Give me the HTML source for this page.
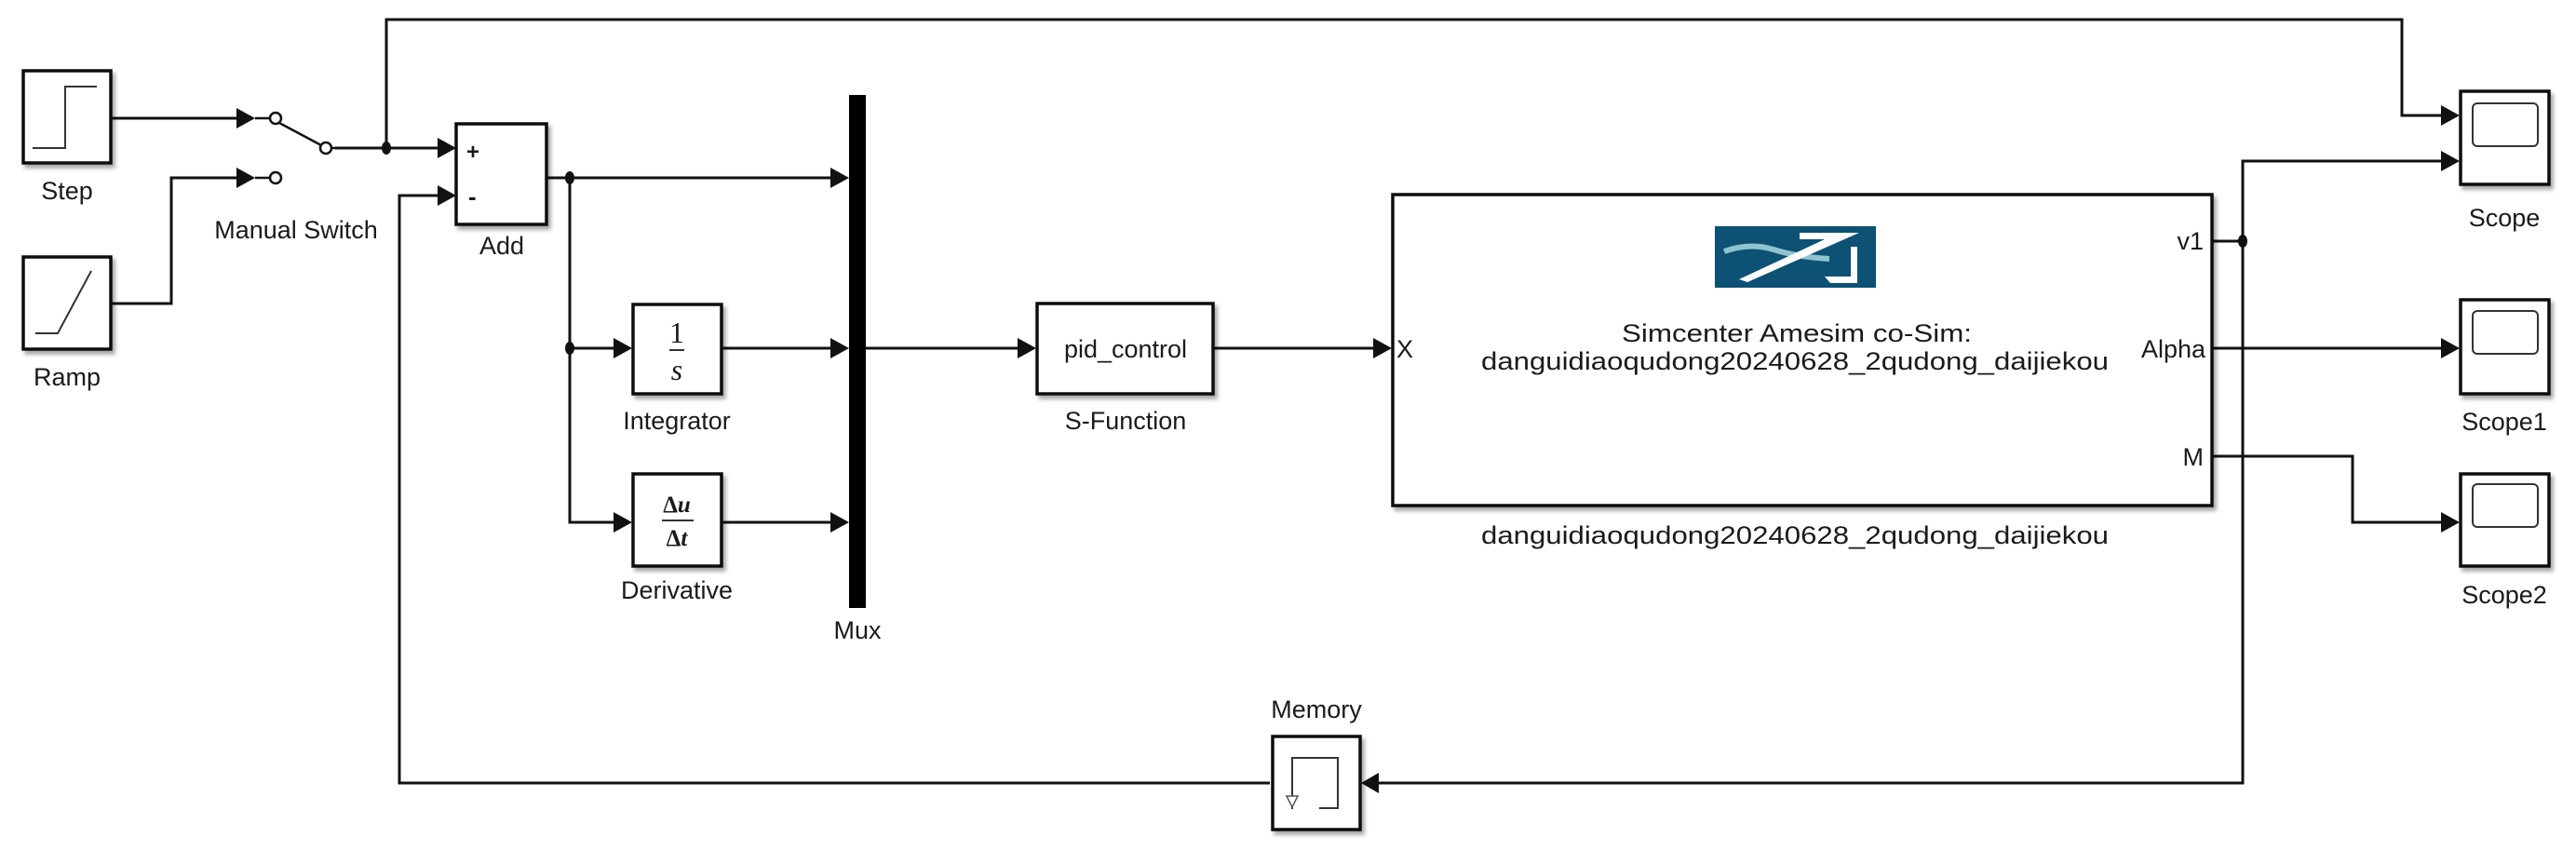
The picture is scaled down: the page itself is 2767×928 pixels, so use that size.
<!DOCTYPE html>
<html><head><meta charset="utf-8"><style>
html,body{margin:0;padding:0;background:#fff;}
svg{display:block;}
text{font-family:"Liberation Sans",Arial,sans-serif;font-size:27px;fill:#1a1a1a;}
</style></head><body>
<svg width="2767" height="928" viewBox="0 0 2767 928" xmlns="http://www.w3.org/2000/svg">
<defs>
<filter id="sh" x="-10%" y="-10%" width="130%" height="130%"><feDropShadow dx="3" dy="4" stdDeviation="2" flood-color="#000" flood-opacity="0.35"/></filter>
</defs>
<g fill="none" stroke="#111" stroke-width="3">
<polyline points="415,159 415,21 2580,21 2580,124 2625,124"/>
<line x1="120" y1="127" x2="256" y2="127"/>
<polyline points="120,326 184,326 184,191 256,191"/>
<line x1="360" y1="159" x2="475" y2="159"/>
<polyline points="1364,841 429,841 429,210 475,210"/>
<line x1="588" y1="191" x2="896" y2="191"/>
<polyline points="612,191 612,561 662,561"/>
<line x1="612" y1="374" x2="662" y2="374"/>
<line x1="776" y1="374" x2="896" y2="374"/>
<line x1="776" y1="561" x2="896" y2="561"/>
<line x1="930" y1="374" x2="1097" y2="374"/>
<line x1="1304" y1="374" x2="1479" y2="374"/>
<line x1="2377" y1="259" x2="2409" y2="259"/>
<polyline points="2625,173 2409,173 2409,841 1478,841"/>
<line x1="2377" y1="374" x2="2625" y2="374"/>
<polyline points="2377,490 2527,490 2527,561 2625,561"/>
</g>
<g fill="#111">
<polygon points="254,116 274,127 254,138"/>
<polygon points="254,180 274,191 254,202"/>
<polygon points="470,148 490,159 470,170"/>
<polygon points="470,199 490,210 470,221"/>
<polygon points="892,180 912,191 892,202"/>
<polygon points="892,363 912,374 892,385"/>
<polygon points="892,550 912,561 892,572"/>
<polygon points="659,363 679,374 659,385"/>
<polygon points="659,550 679,561 659,572"/>
<polygon points="1093,363 1113,374 1093,385"/>
<polygon points="1475,363 1495,374 1475,385"/>
<polygon points="2622,113 2642,124 2622,135"/>
<polygon points="2622,162 2642,173 2622,184"/>
<polygon points="2622,363 2642,374 2622,385"/>
<polygon points="2622,550 2642,561 2622,572"/>
<polygon points="1481,830 1462,841 1481,852"/>
<ellipse cx="415" cy="159" rx="5" ry="7"/>
<ellipse cx="612" cy="191" rx="5" ry="7"/>
<ellipse cx="612" cy="374" rx="5" ry="7"/>
<ellipse cx="2409" cy="259" rx="5" ry="7"/>
</g>
<g fill="#fff" stroke="#111" stroke-width="2.5">
<line x1="274" y1="127" x2="290" y2="127"/>
<line x1="274" y1="191" x2="290" y2="191"/>
<line x1="300" y1="132" x2="345" y2="156"/>
<line x1="356" y1="159" x2="362" y2="159"/>
<circle cx="296" cy="127" r="6"/>
<circle cx="296" cy="191" r="6"/>
<circle cx="350" cy="159" r="6"/>
</g>
<g fill="#fff" stroke="#111" stroke-width="3.5" filter="url(#sh)">
<rect x="25" y="76" width="94" height="99"/>
<rect x="25" y="276" width="94" height="99"/>
<rect x="490" y="133" width="97" height="108"/>
<rect x="680" y="327" width="95" height="96"/>
<rect x="680" y="509" width="95" height="99"/>
<rect x="1114" y="326" width="189" height="97"/>
<rect x="1496" y="209" width="880" height="334"/>
<rect x="1367" y="791" width="94" height="100"/>
<rect x="2643" y="98" width="95" height="100"/>
<rect x="2643" y="322" width="95" height="101"/>
<rect x="2643" y="509" width="95" height="99"/>
</g>
<rect x="912" y="102" width="18" height="551" fill="#000"/>
<g fill="none" stroke="#333" stroke-width="2">
<polyline points="35,159 70,159 70,93 104,93"/>
<polyline points="38,358 62,358 98,291"/>
<polyline points="1388,869 1388,814 1437,814 1437,868 1417,868"/>
<rect x="2656" y="111" width="70" height="46" rx="5"/>
<rect x="2656" y="334" width="70" height="46" rx="5"/>
<rect x="2656" y="520" width="70" height="46" rx="5"/>
</g>
<polygon points="1382,855 1394,855 1388,867" fill="#fff" stroke="#555" stroke-width="1.5"/>
<g text-anchor="middle">
<text x="727" y="368" style="font-family:'Liberation Serif',serif;font-size:32px;font-style:normal">1</text>
<line x1="719" y1="376" x2="735" y2="376" stroke="#333" stroke-width="2"/>
<text x="727" y="408" style="font-family:'Liberation Serif',serif;font-size:32px;font-style:italic">s</text>
<text x="727" y="550" style="font-family:'Liberation Serif',serif;font-size:25px;font-weight:bold">Δ<tspan font-style="italic">u</tspan></text>
<line x1="711" y1="559" x2="745" y2="559" stroke="#333" stroke-width="2"/>
<text x="727" y="586" style="font-family:'Liberation Serif',serif;font-size:25px;font-weight:bold">Δ<tspan font-style="italic">t</tspan></text>
</g>
<text x="501" y="171" style="font-size:24px;font-weight:bold">+</text>
<text x="503" y="220" style="font-size:26px;font-weight:bold">-</text>
<rect x="1842" y="243" width="173" height="66" fill="#0d5174"/>
<path d="M1852,270 Q1880,260 1905,268 T1965,278" stroke="#8fc4cf" stroke-width="6" fill="none"/>
<polygon points="1933,250 1997,250 1877,303 1868,300 1960,257 1933,257" fill="#fff"/>
<polygon points="1988,265 1995,265 1995,304 1966,304 1960,297 1988,297" fill="#fff"/>
<g text-anchor="middle">
<text x="72" y="214">Step</text>
<text x="72" y="414">Ramp</text>
<text x="318" y="256">Manual Switch</text>
<text x="539" y="273">Add</text>
<text x="727" y="461">Integrator</text>
<text x="727" y="643">Derivative</text>
<text x="921" y="686">Mux</text>
<text x="1209" y="461">S-Function</text>
<text x="1414" y="771">Memory</text>
<text x="2690" y="243">Scope</text>
<text x="2690" y="462">Scope1</text>
<text x="2690" y="648">Scope2</text>
<text x="1930" y="367" textLength="376" lengthAdjust="spacingAndGlyphs">Simcenter Amesim co-Sim:</text>
<text x="1928" y="397" textLength="674" lengthAdjust="spacingAndGlyphs">danguidiaoqudong20240628_2qudong_daijiekou</text>
<text x="1928" y="584" textLength="674" lengthAdjust="spacingAndGlyphs">danguidiaoqudong20240628_2qudong_daijiekou</text>
<text x="1209" y="384">pid_control</text>
</g>
<text x="1500" y="384">X</text>
<g text-anchor="end">
<text x="2367" y="268">v1</text>
<text x="2369" y="384">Alpha</text>
<text x="2367" y="500">M</text>
</g>
</svg>
</body></html>
